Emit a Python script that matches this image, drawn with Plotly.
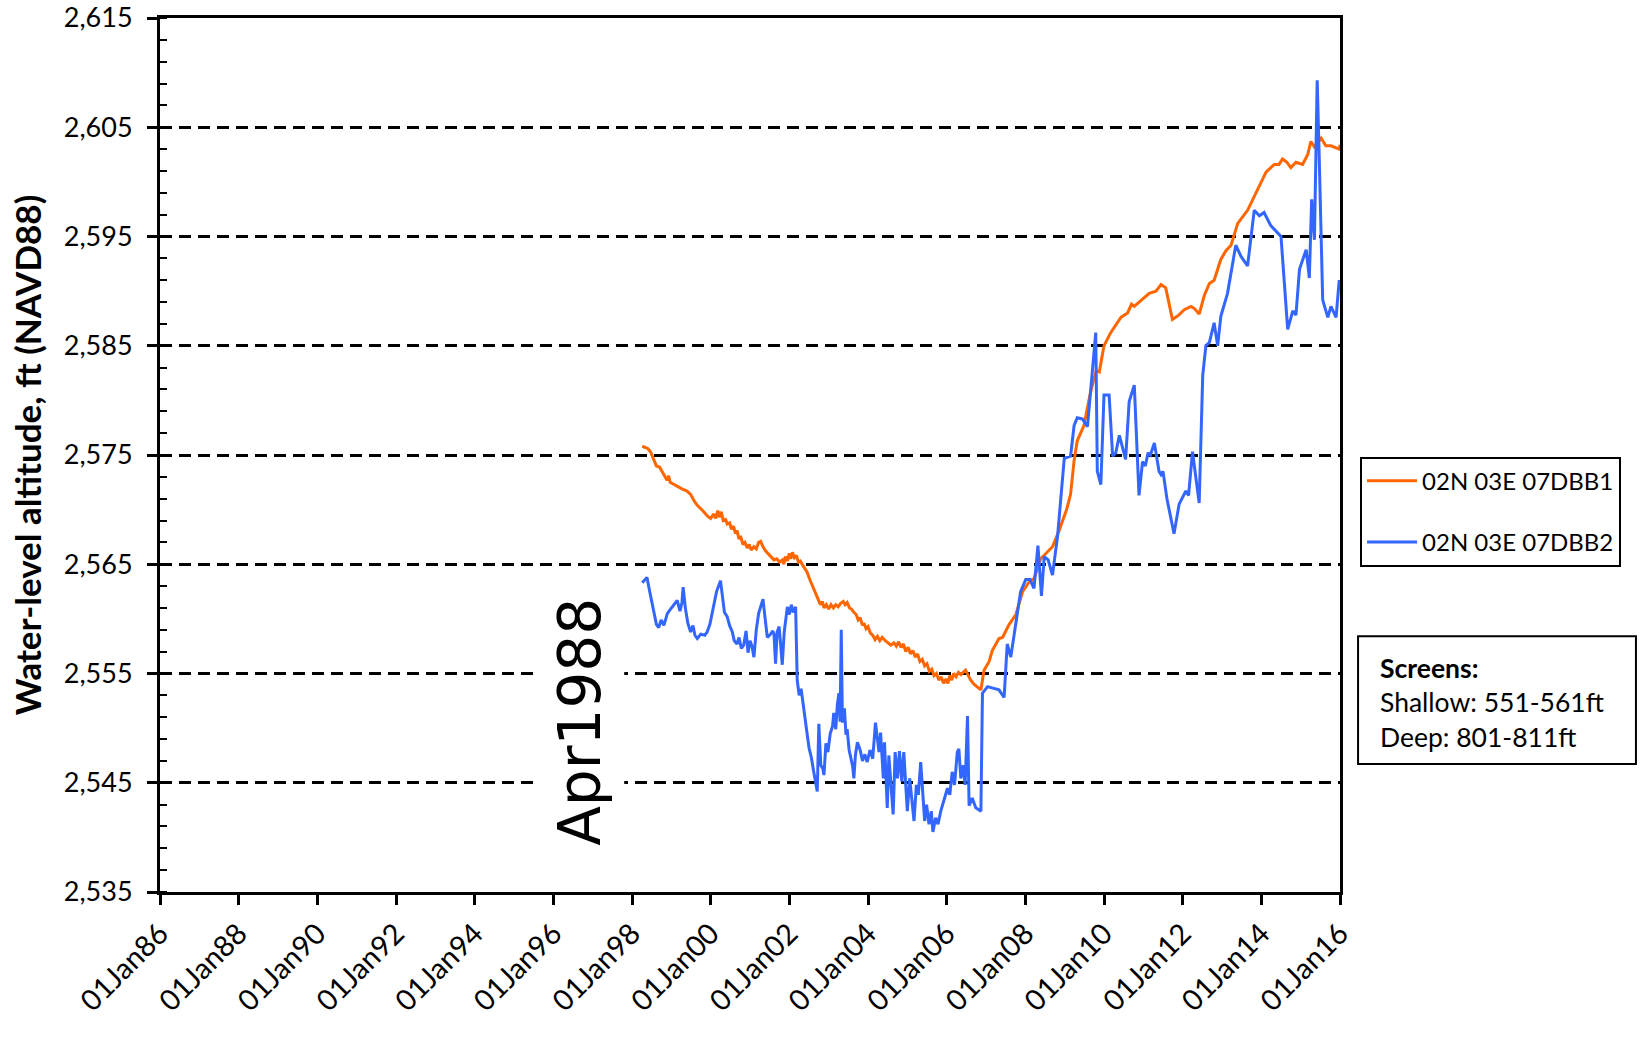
import plotly.graph_objects as go

# ---------------- data (decimal year, water-level altitude ft NAVD88) ----------------
shallow_year = [
    1998.26, 1998.40, 1998.47, 1998.55, 1998.62, 1998.70, 1998.77, 1998.84, 1998.89, 1998.93,
    1998.97, 1999.06, 1999.17, 1999.27, 1999.40, 1999.49, 1999.58, 1999.66, 1999.80, 1999.92,
    2000.00, 2000.08, 2000.13, 2000.18, 2000.22, 2000.27, 2000.32, 2000.38, 2000.42, 2000.48,
    2000.53, 2000.58, 2000.63, 2000.67, 2000.72, 2000.76, 2000.82, 2000.87, 2000.93, 2000.98,
    2001.03, 2001.10, 2001.16, 2001.22, 2001.27, 2001.33, 2001.40, 2001.46, 2001.53, 2001.61,
    2001.68, 2001.75, 2001.82, 2001.86, 2001.90, 2001.95, 2002.00, 2002.04, 2002.08, 2002.13,
    2002.18, 2002.23, 2002.28, 2002.36, 2002.45, 2002.52, 2002.58, 2002.62, 2002.67, 2002.72,
    2002.79, 2002.84, 2002.88, 2002.94, 2003.00, 2003.06, 2003.12, 2003.18, 2003.24, 2003.30,
    2003.37, 2003.42, 2003.47, 2003.53, 2003.58, 2003.64, 2003.70, 2003.75, 2003.80, 2003.86,
    2003.90, 2003.95, 2004.00, 2004.06, 2004.12, 2004.18, 2004.24, 2004.30, 2004.36, 2004.44,
    2004.52, 2004.58, 2004.66, 2004.72, 2004.78, 2004.84, 2004.90, 2004.96, 2005.02, 2005.08,
    2005.14, 2005.20, 2005.26, 2005.32, 2005.38, 2005.44, 2005.50, 2005.56, 2005.62, 2005.68,
    2005.74, 2005.80, 2005.86, 2005.92, 2005.98, 2006.03, 2006.08, 2006.13, 2006.18, 2006.24,
    2006.30, 2006.36, 2006.42, 2006.48, 2006.54, 2006.61, 2006.70, 2006.80, 2006.87, 2006.95,
    2007.08, 2007.16, 2007.33, 2007.42, 2007.59, 2007.76, 2007.93, 2008.10, 2008.22, 2008.39,
    2008.56, 2008.69, 2008.86, 2009.05, 2009.15, 2009.24, 2009.32, 2009.49, 2009.66, 2009.80,
    2009.88, 2010.00, 2010.17, 2010.43, 2010.60, 2010.70, 2010.77, 2010.94, 2011.15, 2011.32,
    2011.45, 2011.57, 2011.74, 2011.90, 2012.04, 2012.21, 2012.30, 2012.42, 2012.55, 2012.68,
    2012.80, 2012.97, 2013.10, 2013.23, 2013.40, 2013.65, 2013.91, 2014.12, 2014.33, 2014.45,
    2014.54, 2014.65, 2014.75, 2014.88, 2015.05, 2015.18, 2015.26, 2015.35, 2015.52, 2015.64,
    2015.77, 2015.98, 2016.00,
]
shallow_level = [
    2575.8, 2575.6, 2575.3, 2574.6, 2574.0, 2573.9, 2573.4, 2573.0, 2572.7, 2573.1,
    2572.5, 2572.3, 2572.1, 2571.9, 2571.7, 2571.4, 2570.8, 2570.4, 2569.9, 2569.4,
    2569.2, 2569.6, 2569.2, 2569.9, 2569.3, 2569.8, 2569.0, 2569.1, 2568.7, 2568.8,
    2568.2, 2568.5, 2567.8, 2568.1, 2567.3, 2567.6, 2566.8, 2567.0, 2566.5, 2566.8,
    2566.3, 2566.6, 2566.4, 2567.0, 2567.1, 2566.6, 2566.2, 2566.0, 2565.7, 2565.4,
    2565.5, 2565.2, 2565.4, 2565.0, 2565.7, 2565.3, 2566.0, 2565.5, 2566.1, 2565.6,
    2565.8, 2565.2, 2565.3, 2564.8, 2564.3, 2563.6, 2563.1, 2562.6, 2562.2, 2561.9,
    2561.3, 2561.6, 2561.0, 2561.3, 2560.9, 2561.3, 2561.0, 2561.3, 2561.1, 2561.4,
    2561.6, 2561.3, 2561.5, 2561.0, 2560.9, 2560.6, 2560.4, 2559.9, 2560.1, 2559.4,
    2559.6, 2559.1, 2559.3, 2558.7, 2558.5, 2558.1, 2558.4, 2558.0, 2558.3, 2558.0,
    2557.8, 2557.6, 2557.8, 2557.5, 2557.9, 2557.4, 2557.7, 2557.0, 2557.4, 2556.8,
    2557.1, 2556.5, 2556.8, 2556.1, 2556.3, 2555.7, 2555.9, 2555.2, 2555.4, 2554.8,
    2555.0, 2554.4, 2554.7, 2554.1, 2554.5, 2554.1, 2554.8, 2554.4, 2555.0, 2554.7,
    2555.1, 2554.9, 2555.1, 2555.3, 2554.9, 2554.4, 2554.0, 2553.7, 2553.5, 2555.3,
    2556.1, 2557.1, 2558.2, 2558.3, 2559.5, 2560.4, 2562.5, 2563.4, 2563.7, 2565.5,
    2566.1, 2566.6, 2568.1, 2570.0, 2571.4, 2574.5, 2576.3, 2577.7, 2580.8, 2582.7,
    2582.6, 2585.0, 2586.2, 2587.6, 2588.0, 2588.8, 2588.6, 2589.1, 2589.8, 2590.0,
    2590.6, 2590.3, 2587.4, 2587.8, 2588.3, 2588.6, 2588.4, 2587.9, 2589.6, 2590.7,
    2591.0, 2592.9, 2593.7, 2594.2, 2596.2, 2597.4, 2599.4, 2600.9, 2601.6, 2601.6,
    2602.1, 2601.8, 2601.3, 2601.8, 2601.6, 2602.5, 2603.7, 2603.2, 2604.0, 2603.3,
    2603.3, 2603.0, 2603.4,
]

deep_year = [
    1998.26, 1998.38, 1998.45, 1998.55, 1998.62, 1998.68, 1998.74, 1998.81, 1998.90, 1998.98,
    1999.07, 1999.15, 1999.22, 1999.27, 1999.30, 1999.36, 1999.42, 1999.49, 1999.55, 1999.60,
    1999.66, 1999.75, 1999.85, 1999.91, 1999.98, 2000.05, 2000.15, 2000.25, 2000.30, 2000.35,
    2000.42, 2000.48, 2000.55, 2000.60, 2000.67, 2000.72, 2000.78, 2000.84, 2000.90, 2000.95,
    2001.00, 2001.05, 2001.10, 2001.16, 2001.22, 2001.27, 2001.33, 2001.37, 2001.44, 2001.52,
    2001.58, 2001.61, 2001.65, 2001.69, 2001.74, 2001.78, 2001.82, 2001.87, 2001.91, 2001.95,
    2002.00, 2002.05, 2002.10, 2002.16, 2002.20, 2002.25, 2002.30, 2002.37, 2002.44, 2002.50,
    2002.56, 2002.62, 2002.67, 2002.71, 2002.75, 2002.80, 2002.85, 2002.88, 2002.93, 2002.98,
    2003.04, 2003.10, 2003.13, 2003.18, 2003.22, 2003.26, 2003.29, 2003.32, 2003.35, 2003.40,
    2003.44, 2003.47, 2003.52, 2003.57, 2003.61, 2003.64, 2003.68, 2003.73, 2003.80, 2003.86,
    2003.92, 2003.98, 2004.05, 2004.12, 2004.19, 2004.28, 2004.32, 2004.39, 2004.42, 2004.49,
    2004.53, 2004.59, 2004.64, 2004.69, 2004.75, 2004.80, 2004.86, 2004.91, 2004.96, 2005.00,
    2005.06, 2005.11, 2005.17, 2005.23, 2005.28, 2005.34, 2005.39, 2005.44, 2005.49, 2005.55,
    2005.61, 2005.65, 2005.72, 2005.78, 2005.85, 2005.93, 2006.02, 2006.08, 2006.14, 2006.20,
    2006.27, 2006.31, 2006.36, 2006.42, 2006.47, 2006.53, 2006.57, 2006.65, 2006.74, 2006.87,
    2006.91, 2007.04, 2007.33, 2007.46, 2007.54, 2007.63, 2007.76, 2007.88, 2008.01, 2008.12,
    2008.22, 2008.32, 2008.41, 2008.48, 2008.58, 2008.69, 2008.82, 2008.99, 2009.15, 2009.24,
    2009.32, 2009.45, 2009.58, 2009.68, 2009.79, 2009.83, 2009.92, 2010.00, 2010.13, 2010.22,
    2010.30, 2010.39, 2010.55, 2010.64, 2010.77, 2010.89, 2010.98, 2011.05, 2011.12, 2011.18,
    2011.28, 2011.40, 2011.45, 2011.50, 2011.60, 2011.78, 2011.91, 2012.08, 2012.15, 2012.25,
    2012.33, 2012.42, 2012.51, 2012.59, 2012.68, 2012.80, 2012.89, 2012.97, 2013.14, 2013.35,
    2013.48, 2013.65, 2013.82, 2013.95, 2014.07, 2014.24, 2014.50, 2014.67, 2014.80, 2014.88,
    2014.97, 2015.14, 2015.22, 2015.28, 2015.35, 2015.42, 2015.47, 2015.56, 2015.69, 2015.77,
    2015.90, 2015.98, 2016.00,
]
deep_level = [
    2563.3, 2563.8, 2562.5, 2560.8, 2559.5, 2559.2, 2559.9, 2559.4, 2560.5, 2560.9,
    2561.3, 2561.7, 2560.7, 2561.5, 2562.9, 2560.9, 2559.6, 2558.8, 2559.4, 2558.5,
    2558.2, 2558.6, 2558.5, 2558.8, 2559.5, 2560.7, 2562.5, 2563.5, 2562.0, 2560.6,
    2560.2, 2559.4, 2558.8, 2558.0, 2557.7, 2558.3, 2557.3, 2557.6, 2558.9, 2556.9,
    2558.0, 2557.5, 2556.5, 2559.0, 2560.5, 2561.1, 2561.8, 2560.5, 2558.3, 2558.6,
    2558.9, 2558.6, 2555.9, 2558.8, 2559.3, 2557.6, 2555.8, 2558.8, 2560.1, 2561.1,
    2560.4, 2561.3, 2560.6, 2561.1, 2554.4, 2553.0, 2553.6, 2551.4, 2549.8, 2548.2,
    2547.3, 2546.0, 2544.8, 2544.2, 2550.4, 2546.6, 2546.3, 2545.7, 2548.6, 2547.8,
    2549.5, 2550.2, 2551.4, 2549.9, 2552.1, 2553.2, 2550.6, 2559.0, 2550.5, 2551.8,
    2549.4, 2549.9, 2548.0, 2547.3, 2546.5, 2545.4, 2547.5, 2548.7, 2548.0, 2547.0,
    2547.6, 2546.9, 2548.0, 2547.2, 2550.5, 2547.8, 2549.6, 2545.4, 2548.7, 2542.7,
    2547.5, 2544.5, 2542.1, 2547.8, 2545.4, 2547.9, 2545.1, 2547.8, 2544.5, 2542.4,
    2545.4, 2543.6, 2541.5, 2544.8, 2543.9, 2546.9, 2543.6, 2541.5, 2543.0, 2541.2,
    2542.4, 2540.5, 2541.8, 2541.2, 2542.4, 2543.3, 2544.5, 2543.9, 2546.0, 2544.8,
    2547.8, 2548.1, 2545.4, 2546.6, 2544.8, 2551.1, 2542.9, 2543.6, 2542.7, 2542.4,
    2553.2, 2553.8, 2553.5, 2552.8, 2557.7, 2556.5, 2559.8, 2562.5, 2563.6, 2563.6,
    2562.8, 2566.7, 2562.1, 2565.7, 2565.4, 2564.0, 2567.6, 2574.7, 2574.9, 2577.7,
    2578.4, 2578.3, 2577.6, 2582.0, 2586.2, 2573.5, 2572.3, 2580.5, 2580.5, 2574.9,
    2575.2, 2576.8, 2574.6, 2579.9, 2581.4, 2571.3, 2574.4, 2574.0, 2575.2, 2575.0,
    2576.1, 2573.5, 2573.2, 2573.5, 2571.0, 2567.8, 2570.5, 2571.7, 2571.3, 2575.3,
    2573.0, 2570.6, 2582.3, 2585.0, 2585.3, 2587.1, 2585.0, 2587.7, 2589.8, 2594.2,
    2593.2, 2592.3, 2597.4, 2596.9, 2597.2, 2596.0, 2595.0, 2586.5, 2588.2, 2587.8,
    2592.0, 2593.8, 2591.2, 2598.4, 2594.7, 2609.3, 2602.5, 2589.2, 2587.6, 2588.6,
    2587.6, 2591.0, 2590.7,
]

series_names = ["02N 03E 07DBB1", "02N 03E 07DBB2"]
tick_years = [1986, 1988, 1990, 1992, 1994, 1996, 1998, 2000, 2002, 2004, 2006,
              2008, 2010, 2012, 2014, 2016]
tick_labels = ["01Jan86", "01Jan88", "01Jan90", "01Jan92", "01Jan94", "01Jan96",
               "01Jan98", "01Jan00", "01Jan02", "01Jan04", "01Jan06", "01Jan08",
               "01Jan10", "01Jan12", "01Jan14", "01Jan16"]
y_ticks = [2535, 2545, 2555, 2565, 2575, 2585, 2595, 2605, 2615]
y_tick_labels = ["2,535", "2,545", "2,555", "2,565", "2,575", "2,585", "2,595", "2,605", "2,615"]
screen_lines = ["<b>Screens:</b>", "Shallow: 551-561ft", "Deep: 801-811ft"]
marker_text = "Apr1988"
marker_year = 1996.66
marker_level = 2550.6

FONT = "Lato, 'Open Sans', sans-serif"

fig = go.Figure()
fig.add_trace(go.Scatter(
    x=shallow_year, y=shallow_level, mode="lines", name=series_names[0],
    line=dict(color="#FF6600", width=3), legendgroup="a",
))
fig.add_trace(go.Scatter(
    x=deep_year, y=deep_level, mode="lines", name=series_names[1],
    line=dict(color="#3366FF", width=3), legendgroup="b",
))

fig.update_layout(
    width=1647, height=1037,
    margin=dict(l=160, r=307, t=18, b=145, pad=0),
    paper_bgcolor="white", plot_bgcolor="white",
    font=dict(family=FONT, color="black", size=22),
    showlegend=True,
    legend=dict(
        x=1.017, y=0.498, xanchor="left", yanchor="top",
        bordercolor="black", borderwidth=2, bgcolor="white",
        font=dict(family=FONT, size=24, color="black"),
        tracegroupgap=27, itemwidth=50,
    ),
)

fig.update_xaxes(
    range=[1986, 2016], tickmode="array", tickvals=tick_years, ticktext=tick_labels,
    tickangle=-45, tickfont=dict(family=FONT, size=29, color="black"),
    ticks="outside", ticklen=10, tickwidth=3, tickcolor="black",
    showline=True, linecolor="black", linewidth=3, mirror=True,
    showgrid=False, zeroline=False, automargin=False, ticklabeloverflow="allow",
)
fig.update_yaxes(
    range=[2535, 2615], tickmode="array", tickvals=y_ticks, ticktext=y_tick_labels,
    tickfont=dict(family=FONT, size=27, color="black"),
    ticks="outside", ticklen=10, tickwidth=3, tickcolor="black",
    ticklabelstandoff=9, ticklabeloverflow="allow",
    minor=dict(tickmode="linear", tick0=2535, dtick=2, ticks="inside", ticklen=7,
               tickwidth=2, tickcolor="black", showgrid=False),
    showline=True, linecolor="black", linewidth=3, mirror=True,
    showgrid=True, gridcolor="black", gridwidth=3, griddash="12px,7px",
    zeroline=False, automargin=False,
    title=dict(text="<b>Water-level altitude, ft (NAVD88)</b>",
               font=dict(family=FONT, size=35, color="black"), standoff=12),
)

# "Apr1988" label on the chart
fig.add_annotation(
    x=marker_year, y=marker_level, xref="x", yref="y", text=marker_text,
    showarrow=False, textangle=-90, bgcolor="white", borderpad=10,
    font=dict(family="DejaVu Sans", size=58, color="black"),
)

# Screens note box
fig.add_shape(type="rect", xref="paper", yref="paper",
              x0=1.0153, x1=1.2508, y0=0.1464, y1=0.2925,
              line=dict(color="black", width=2), fillcolor="white")
for txt, yy in zip(screen_lines, [0.2566, 0.2171, 0.1779]):
    fig.add_annotation(x=1.0322, y=yy, xref="paper", yref="paper", text=txt,
                       showarrow=False, xanchor="left", yanchor="middle", align="left",
                       font=dict(family=FONT, size=26.5, color="black"))

fig.write_html("out.html", config={"displayModeBar": False},
               post_script="document.body.style.margin='0px';")
